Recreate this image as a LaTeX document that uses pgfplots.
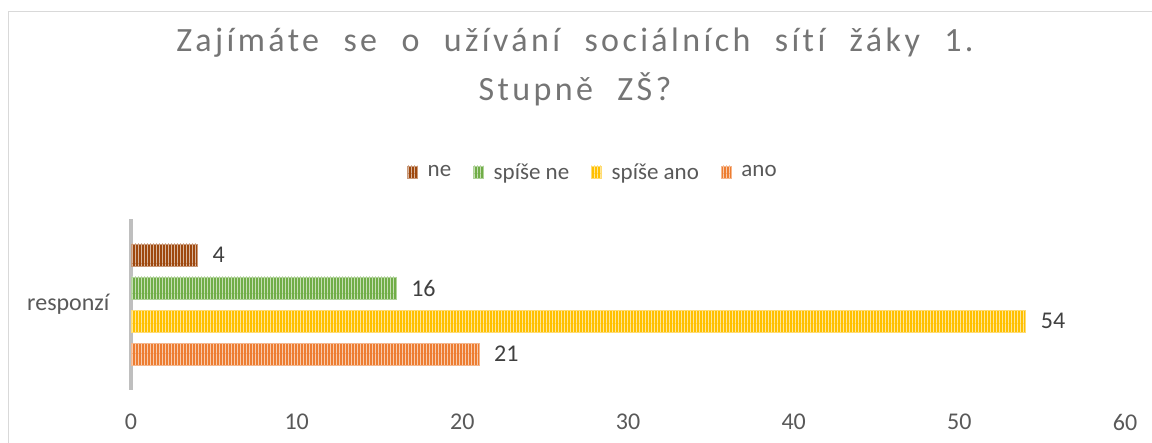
\documentclass[border=0pt]{standalone}
\usepackage{fontspec}
\setmainfont{Carlito}[Ligatures=NoCommon]
\newfontfamily\titlefont{Carlito}[LetterSpace=10, WordSpace=2.2, Ligatures=NoCommon]
\usepackage{pgfplots}
\pgfplotsset{compat=1.18}
\usetikzlibrary{patterns}
\pgfdeclarepatternformonly{vstripe}{\pgfpointorigin}{\pgfqpoint{3bp}{30bp}}{\pgfqpoint{3bp}{30bp}}{\pgfpathrectangle{\pgfpointorigin}{\pgfqpoint{1bp}{30bp}}\pgfusepath{fill}}
\definecolor{cne}{HTML}{9E480E}
\definecolor{cspne}{HTML}{70AD47}
\definecolor{cspano}{HTML}{FFC000}
\definecolor{cano}{HTML}{ED7D31}
\definecolor{txt}{HTML}{595959}
\definecolor{ttl}{HTML}{757575}
\definecolor{lab}{HTML}{404040}
\definecolor{borderc}{HTML}{D9D9D9}
\definecolor{axc}{HTML}{BFBFBF}
\pgfplotsset{
  mybar/.style={xbar, bar width=22bp, bar shift=0pt, fill=#1, draw=#1!55!white, line width=0.5bp,
    postaction={pattern=vstripe, pattern color=#1!40!white},
    legend image code/.code={\draw[##1] (0bp,-6bp) rectangle (10bp,6bp);}},
}
\begin{document}
\begin{tikzpicture}
\path[use as bounding box] (0,0) rectangle (1152bp,443bp);
\draw[color=borderc, line width=1bp] (8bp,0) -- (8bp,431bp) -- (1152bp,431bp);
\node[font=\titlefont\fontsize{34bp}{40bp}\selectfont, text=ttl, anchor=base, inner sep=0pt] at (575bp,391bp) {Zajímáte se o užívání sociálních sítí žáky 1.};
\node[font=\titlefont\fontsize{34bp}{40bp}\selectfont, text=ttl, anchor=base, inner sep=0pt] at (575bp,342bp) {Stupně ZŠ?};
\begin{axis}[
  at={(131bp,53bp)}, anchor=south west,
  scale only axis, width=994bp, height=171bp,
  xmin=0, xmax=60, ymin=-2.59, ymax=2.59,
  axis line style={draw=none},
  /pgf/number format/assume math mode=true,
  xtick={0,10,...,60},
  ytick={0}, yticklabels={responzí},
  major tick length=0pt,
  tick label style={font=\fontsize{24bp}{28bp}\selectfont, text=txt},
  xticklabel style={anchor=center, yshift=-32bp},
  yticklabel style={anchor=east, xshift=-18bp},
  point meta=x,
  nodes near coords,
  every node near coord/.append style={font=\fontsize{24bp}{28bp}\selectfont, text=lab, anchor=west, xshift=14bp, inner sep=1bp},
  legend columns=4,
  legend style={draw=none, fill=none, at={(axis description cs:0.4647,1.2750)}, anchor=center,
    font=\fontsize{23bp}{27bp}\selectfont, text=txt,
    /tikz/every odd column/.append style={column sep=8bp},
    /tikz/every even column/.append style={column sep=20bp}},
  legend cell align=left,
  clip=false,
]
\draw[axc, line width=3bp] (axis cs:0,-2.59) -- (axis cs:0,2.59);
\addplot[mybar=cne] coordinates {(4,1.5)};
\addlegendentry{ne}
\addplot[mybar=cspne] coordinates {(16,0.5)};
\addlegendentry{spíše ne}
\addplot[mybar=cspano] coordinates {(54,-0.5)};
\addlegendentry{spíše ano}
\addplot[mybar=cano] coordinates {(21,-1.5)};
\addlegendentry{ano}
\end{axis}
\end{tikzpicture}
\end{document}
